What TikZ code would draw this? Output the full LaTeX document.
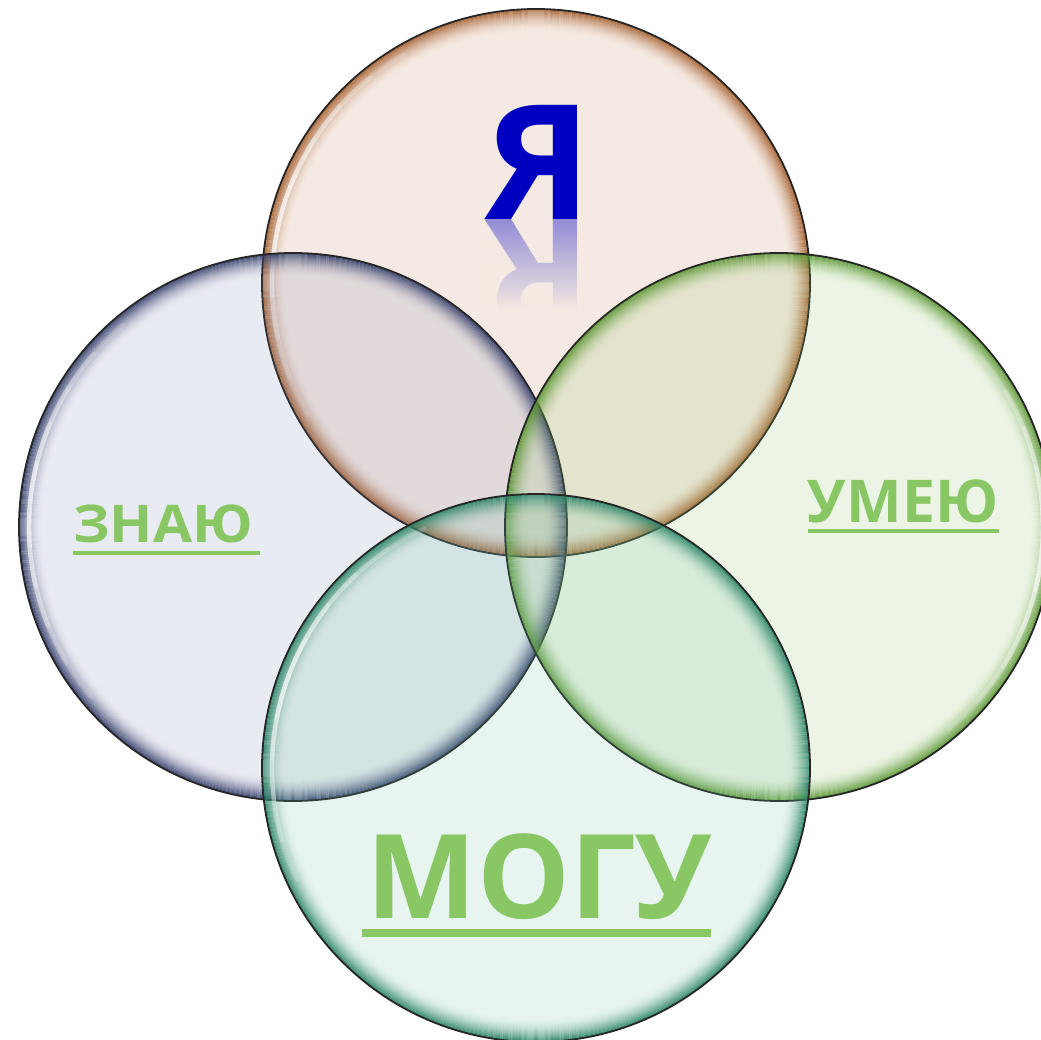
\documentclass[tikz,border=0pt]{standalone}
\usepackage{fontspec}
\setmainfont{Open Sans}
\usetikzlibrary{fadings}
\definecolor{topfill}{RGB}{205,150,115}
\definecolor{bgpeach}{RGB}{245,234,227}
\definecolor{toprim}{RGB}{165,95,45}
\definecolor{leftfill}{RGB}{110,120,165}
\definecolor{leftrim}{RGB}{50,60,105}
\definecolor{rightfill}{RGB}{150,200,110}
\definecolor{rightrim}{RGB}{90,150,50}
\definecolor{botfill}{RGB}{110,190,160}
\definecolor{botrim}{RGB}{40,130,100}
\definecolor{wordgreen}{RGB}{137,199,101}
\definecolor{yablue}{RGB}{0,0,192}
\tikzfading[name=reflfade, top color=transparent!100, bottom color=transparent!0]
\tikzset{
  bubble/.style={circle, minimum size=274pt, inner sep=0pt},
  outline/.style={draw=black!85, line width=0.9pt},
  word/.style={text=wordgreen, font=\bfseries, inner sep=0pt, anchor=base},
  uline/.style={draw=wordgreen, line width=2pt},
}
\newcommand\mybubble[7]{% name, x, y, fill, fill opacity, rim, highlight angle
  \node[bubble, fill=#4, fill opacity=#5] (#1) at (#2,#3) {};
  \foreach \i in {0,...,23} {
    \pgfmathsetmacro\rr{136.6-\i*0.5}
    \pgfmathsetmacro\op{0.88*(1-\i/24)^2.2}
    \draw[#6, draw opacity=\op, line width=0.55pt] (#1.center) circle[radius=\rr pt];
  }
  \foreach \s/\o in {45/0.15,36/0.18,27/0.22,18/0.25,9/0.3} {
    \draw[white, draw opacity=\o, line width=2.2pt, line cap=round]
      (#1.center) ++(#7-\s:132pt) arc[start angle=#7-\s, end angle=#7+\s, radius=132pt];
  }
  \draw[outline] (#1.center) circle[radius=137pt];
}
\begin{document}
\begin{tikzpicture}[x=0.5pt,y=-0.5pt]
\useasboundingbox (0,0) rectangle (1041,1040);
\clip (0,0) rectangle (1041,1040);
\mybubble{top}{536}{283}{topfill}{0.2}{toprim}{165}
\mybubble{left}{293}{527}{leftfill}{0.15}{leftrim}{175}
\mybubble{right}{779}{527}{rightfill}{0.18}{rightrim}{-5}
\mybubble{bottom}{536}{768}{botfill}{0.17}{botrim}{160}
% Я and its reflection
\begin{scope}
  \clip (480,219) rectangle (584,309);
  \node[text=yablue, text opacity=0.4, font=\bfseries\fontsize{80}{80}\selectfont, inner sep=0pt, anchor=north] (refl) at (539,219) {\scalebox{1}[-1]{Я}};
  \fill[bgpeach, path fading=reflfade] (480,219) rectangle (584,310);
\end{scope}
\node[text=yablue, font=\bfseries\fontsize{80}{80}\selectfont, inner sep=0pt, anchor=base] (ya) at (refl.north) {Я};
% words
\node[word, font=\bfseries\fontsize{26}{26}\selectfont] (znayu) at (163,542) {\scalebox{1.09}[1]{ЗНАЮ}};
\draw[uline] ([shift={(-90.5,11)}]znayu.base) -- ([shift={(96.5,11)}]znayu.base);
\node[word, font=\bfseries\fontsize{29.5}{29.5}\selectfont] (umeyu) at (903,522) {УМЕЮ};
\draw[uline] ([shift={(-95,9)}]umeyu.base) -- ([shift={(95.5,9)}]umeyu.base);
\node[word, font=\bfseries\fontsize{58.5}{58.5}\selectfont] (mogu) at (539.5,918) {МОГУ};
\draw[uline, line width=4pt] ([shift={(-177.5,15)}]mogu.base) -- ([shift={(171.5,15)}]mogu.base);
\end{tikzpicture}
\end{document}
